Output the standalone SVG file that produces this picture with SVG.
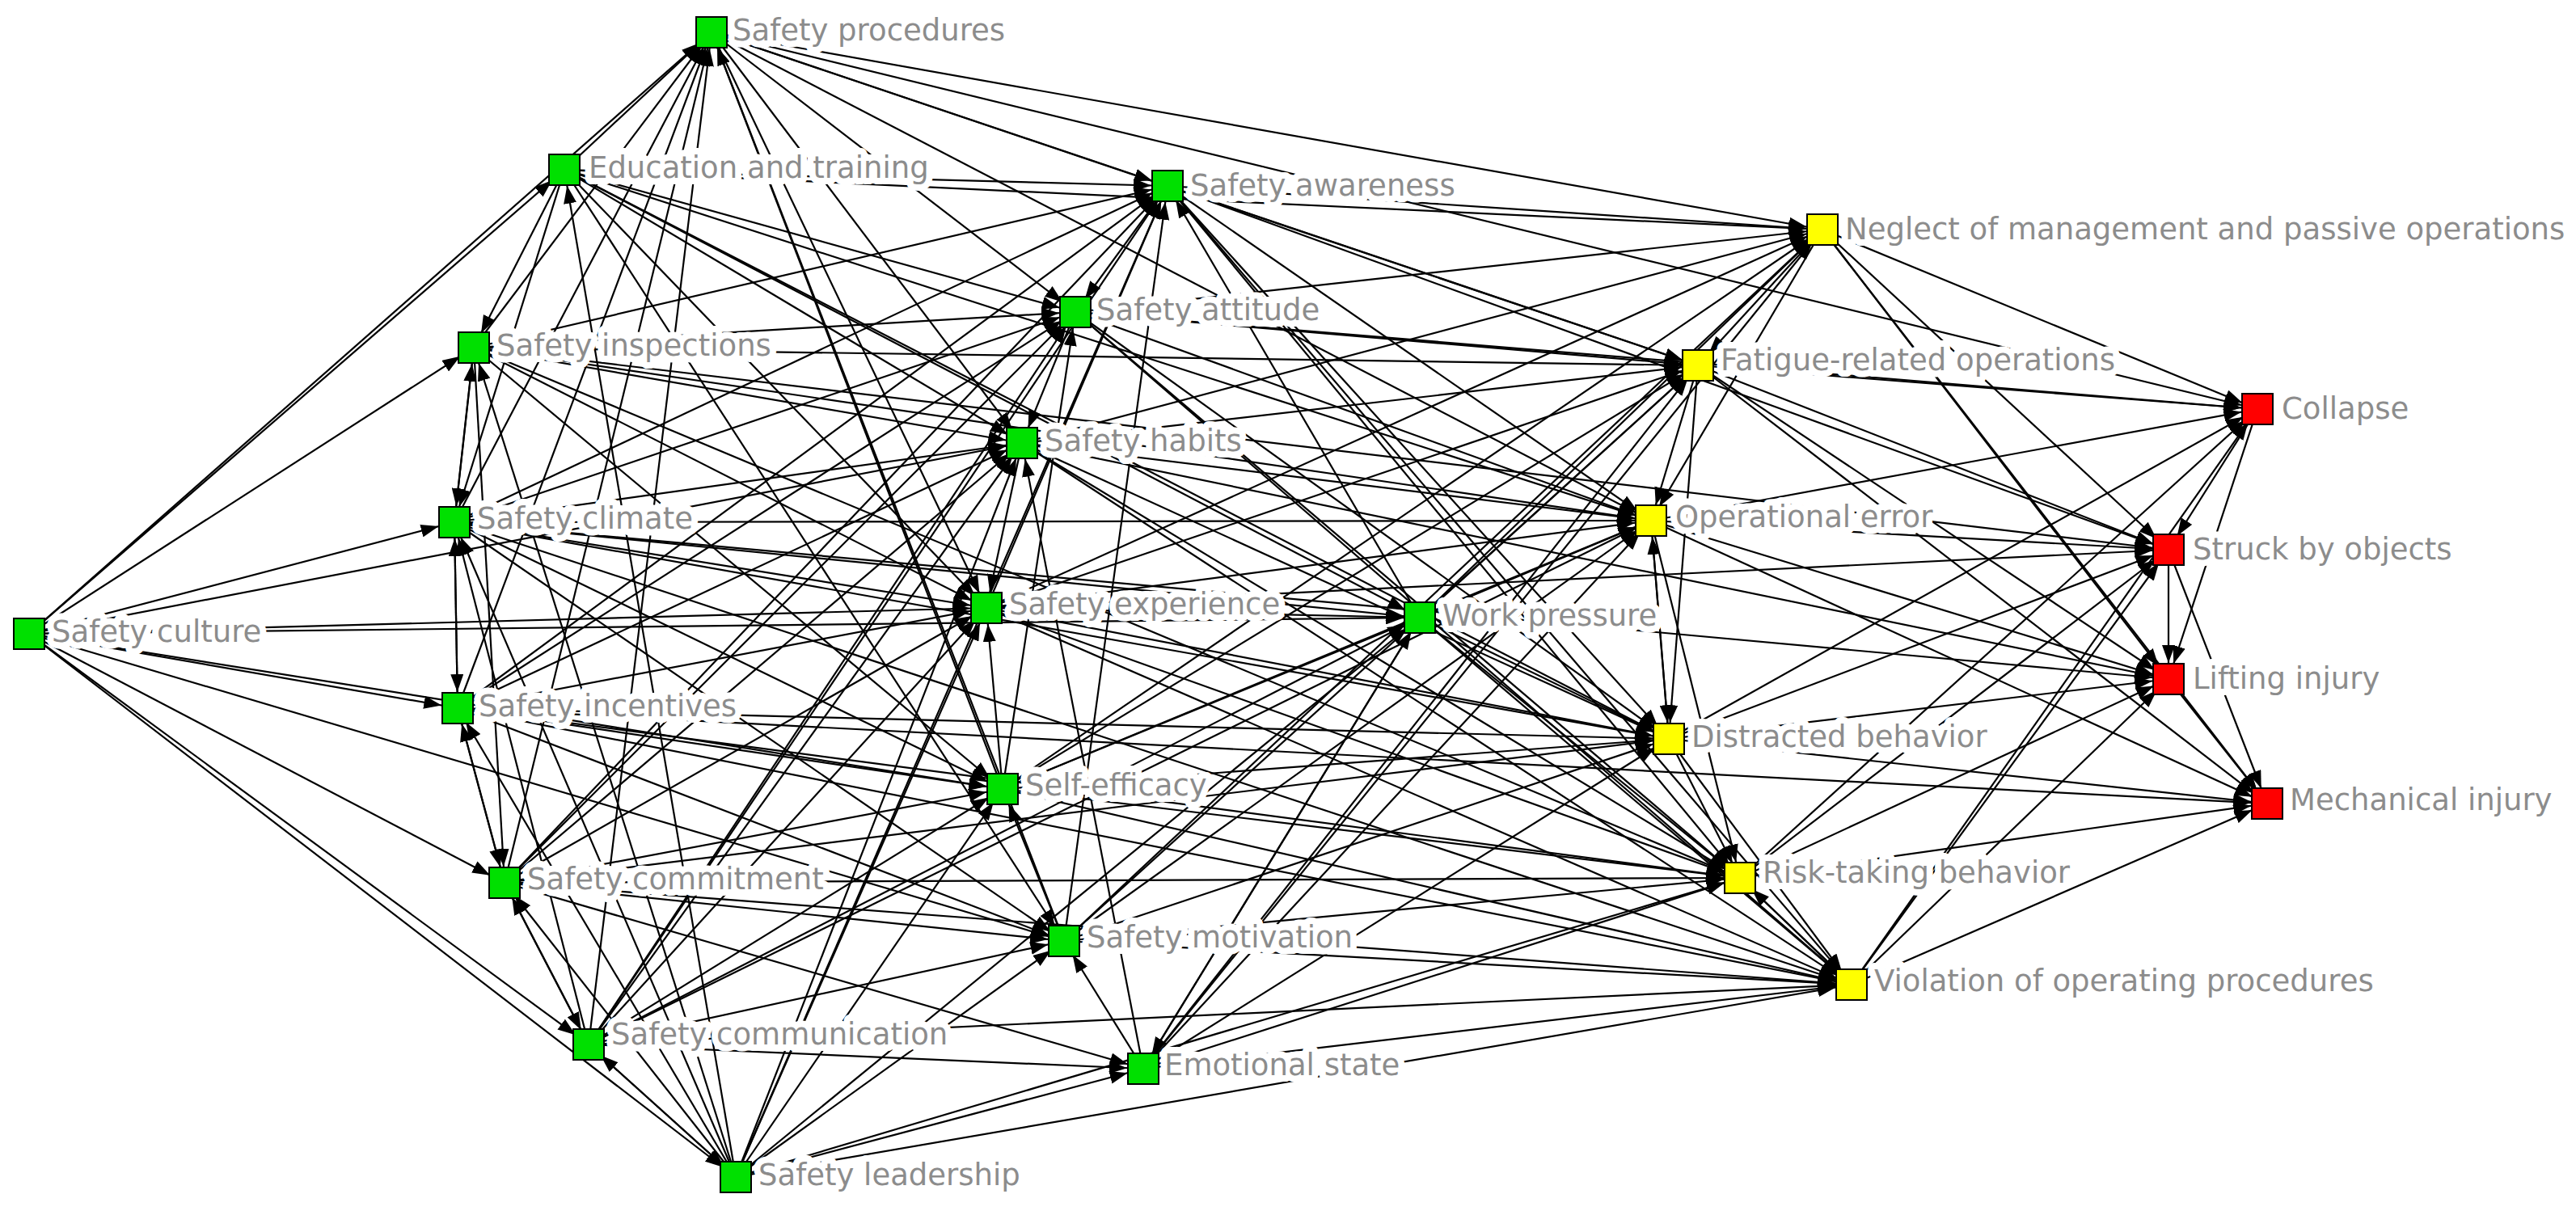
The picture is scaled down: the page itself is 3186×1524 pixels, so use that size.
<svg xmlns="http://www.w3.org/2000/svg" width="3186" height="1524" viewBox="0 0 3186 1524">
<style>
.e line{stroke:#000;stroke-width:2.2;marker-end:url(#ah)}
.n rect{stroke:#000;stroke-width:2}
.g{fill:#00e000}.y{fill:#ffff00}.r{fill:#ff0000}
text{font-family:Tahoma,"DejaVu Sans",sans-serif;font-size:37px;fill:#8c8c8c;stroke:#fff;stroke-width:16;paint-order:stroke;stroke-linejoin:round}
</style>
<defs><marker id="ah" markerUnits="userSpaceOnUse" markerWidth="60" markerHeight="16" refX="42" refY="8" orient="auto"><path d="M0,0 L22,8 L0,16 z" fill="#000"/></marker></defs>
<rect width="3186" height="1524" fill="#fff"/>
<g class="e" id="connectors">
<line x1="36" y1="784" x2="880" y2="40"/><line x1="36" y1="784" x2="698" y2="210"/><line x1="36" y1="784" x2="586" y2="430"/><line x1="36" y1="784" x2="562" y2="646"/><line x1="36" y1="784" x2="1220" y2="752"/><line x1="36" y1="784" x2="566" y2="876"/><line x1="36" y1="784" x2="624" y2="1092"/><line x1="36" y1="784" x2="728" y2="1292"/><line x1="36" y1="784" x2="910" y2="1456"/><line x1="36" y1="784" x2="1264" y2="548"/><line x1="36" y1="784" x2="1756" y2="764"/><line x1="36" y1="784" x2="1240" y2="976"/><line x1="36" y1="784" x2="1316" y2="1164"/>
<line x1="880" y1="40" x2="1444" y2="230"/><line x1="880" y1="40" x2="1330" y2="386"/><line x1="880" y1="40" x2="1264" y2="548"/><line x1="880" y1="40" x2="2254" y2="284"/><line x1="880" y1="40" x2="2100" y2="452"/><line x1="880" y1="40" x2="2042" y2="644"/><line x1="880" y1="40" x2="2792" y2="506"/><line x1="880" y1="40" x2="1220" y2="752"/>
<line x1="698" y1="210" x2="880" y2="40"/><line x1="586" y1="430" x2="880" y2="40"/><line x1="562" y1="646" x2="880" y2="40"/><line x1="566" y1="876" x2="880" y2="40"/><line x1="624" y1="1092" x2="880" y2="40"/><line x1="728" y1="1292" x2="880" y2="40"/><line x1="1240" y1="976" x2="880" y2="40"/><line x1="1316" y1="1164" x2="880" y2="40"/>
<line x1="698" y1="210" x2="1444" y2="230"/><line x1="698" y1="210" x2="1330" y2="386"/><line x1="698" y1="210" x2="1264" y2="548"/><line x1="698" y1="210" x2="1220" y2="752"/><line x1="698" y1="210" x2="2254" y2="284"/><line x1="698" y1="210" x2="2042" y2="644"/><line x1="698" y1="210" x2="2064" y2="914"/><line x1="698" y1="210" x2="1756" y2="764"/><line x1="698" y1="210" x2="586" y2="430"/><line x1="698" y1="210" x2="562" y2="646"/><line x1="698" y1="210" x2="1316" y2="1164"/>
<line x1="586" y1="430" x2="1444" y2="230"/><line x1="586" y1="430" x2="1330" y2="386"/><line x1="586" y1="430" x2="1264" y2="548"/><line x1="586" y1="430" x2="1220" y2="752"/><line x1="586" y1="430" x2="2100" y2="452"/><line x1="586" y1="430" x2="2042" y2="644"/><line x1="586" y1="430" x2="2152" y2="1086"/><line x1="586" y1="430" x2="562" y2="646"/><line x1="586" y1="430" x2="624" y2="1092"/><line x1="586" y1="430" x2="2682" y2="680"/><line x1="586" y1="430" x2="1240" y2="976"/>
<line x1="562" y1="646" x2="1444" y2="230"/><line x1="562" y1="646" x2="1330" y2="386"/><line x1="562" y1="646" x2="1264" y2="548"/><line x1="562" y1="646" x2="1220" y2="752"/><line x1="562" y1="646" x2="1240" y2="976"/><line x1="562" y1="646" x2="1316" y2="1164"/><line x1="562" y1="646" x2="2042" y2="644"/><line x1="562" y1="646" x2="2064" y2="914"/><line x1="562" y1="646" x2="566" y2="876"/><line x1="562" y1="646" x2="2290" y2="1218"/><line x1="562" y1="646" x2="1756" y2="764"/><line x1="562" y1="646" x2="586" y2="430"/><line x1="562" y1="646" x2="2682" y2="840"/>
<line x1="566" y1="876" x2="1444" y2="230"/><line x1="566" y1="876" x2="1330" y2="386"/><line x1="566" y1="876" x2="1264" y2="548"/><line x1="566" y1="876" x2="1220" y2="752"/><line x1="566" y1="876" x2="1240" y2="976"/><line x1="566" y1="876" x2="1316" y2="1164"/><line x1="566" y1="876" x2="2152" y2="1086"/><line x1="566" y1="876" x2="2064" y2="914"/><line x1="566" y1="876" x2="562" y2="646"/><line x1="566" y1="876" x2="624" y2="1092"/><line x1="566" y1="876" x2="2290" y2="1218"/><line x1="566" y1="876" x2="2804" y2="994"/>
<line x1="624" y1="1092" x2="1444" y2="230"/><line x1="624" y1="1092" x2="1330" y2="386"/><line x1="624" y1="1092" x2="1264" y2="548"/><line x1="624" y1="1092" x2="1220" y2="752"/><line x1="624" y1="1092" x2="1240" y2="976"/><line x1="624" y1="1092" x2="1316" y2="1164"/><line x1="624" y1="1092" x2="1414" y2="1322"/><line x1="624" y1="1092" x2="2152" y2="1086"/><line x1="624" y1="1092" x2="2290" y2="1218"/><line x1="624" y1="1092" x2="728" y2="1292"/><line x1="624" y1="1092" x2="566" y2="876"/><line x1="624" y1="1092" x2="2064" y2="914"/>
<line x1="728" y1="1292" x2="1444" y2="230"/><line x1="728" y1="1292" x2="1330" y2="386"/><line x1="728" y1="1292" x2="1264" y2="548"/><line x1="728" y1="1292" x2="1220" y2="752"/><line x1="728" y1="1292" x2="1240" y2="976"/><line x1="728" y1="1292" x2="1316" y2="1164"/><line x1="728" y1="1292" x2="1414" y2="1322"/><line x1="728" y1="1292" x2="1756" y2="764"/><line x1="728" y1="1292" x2="2042" y2="644"/><line x1="728" y1="1292" x2="2290" y2="1218"/><line x1="728" y1="1292" x2="624" y2="1092"/><line x1="728" y1="1292" x2="910" y2="1456"/><line x1="728" y1="1292" x2="562" y2="646"/>
<line x1="910" y1="1456" x2="728" y2="1292"/><line x1="910" y1="1456" x2="624" y2="1092"/><line x1="910" y1="1456" x2="566" y2="876"/><line x1="910" y1="1456" x2="562" y2="646"/><line x1="910" y1="1456" x2="586" y2="430"/><line x1="910" y1="1456" x2="698" y2="210"/><line x1="910" y1="1456" x2="1316" y2="1164"/><line x1="910" y1="1456" x2="1414" y2="1322"/><line x1="910" y1="1456" x2="1240" y2="976"/><line x1="910" y1="1456" x2="1220" y2="752"/><line x1="910" y1="1456" x2="1264" y2="548"/><line x1="910" y1="1456" x2="1444" y2="230"/><line x1="910" y1="1456" x2="1756" y2="764"/><line x1="910" y1="1456" x2="2290" y2="1218"/><line x1="910" y1="1456" x2="2152" y2="1086"/>
<line x1="1444" y1="230" x2="2254" y2="284"/><line x1="1444" y1="230" x2="2100" y2="452"/><line x1="1444" y1="230" x2="2042" y2="644"/><line x1="1444" y1="230" x2="2064" y2="914"/><line x1="1444" y1="230" x2="2152" y2="1086"/><line x1="1444" y1="230" x2="2290" y2="1218"/><line x1="1444" y1="230" x2="1330" y2="386"/><line x1="1444" y1="230" x2="2682" y2="680"/>
<line x1="1330" y1="386" x2="2254" y2="284"/><line x1="1330" y1="386" x2="2100" y2="452"/><line x1="1330" y1="386" x2="2042" y2="644"/><line x1="1330" y1="386" x2="2064" y2="914"/><line x1="1330" y1="386" x2="2152" y2="1086"/><line x1="1330" y1="386" x2="2290" y2="1218"/><line x1="1330" y1="386" x2="1264" y2="548"/><line x1="1330" y1="386" x2="2792" y2="506"/>
<line x1="1264" y1="548" x2="2254" y2="284"/><line x1="1264" y1="548" x2="2100" y2="452"/><line x1="1264" y1="548" x2="2042" y2="644"/><line x1="1264" y1="548" x2="2064" y2="914"/><line x1="1264" y1="548" x2="2152" y2="1086"/><line x1="1264" y1="548" x2="2290" y2="1218"/><line x1="1264" y1="548" x2="1220" y2="752"/><line x1="1264" y1="548" x2="2682" y2="840"/>
<line x1="1220" y1="752" x2="2254" y2="284"/><line x1="1220" y1="752" x2="2100" y2="452"/><line x1="1220" y1="752" x2="2042" y2="644"/><line x1="1220" y1="752" x2="2064" y2="914"/><line x1="1220" y1="752" x2="2152" y2="1086"/><line x1="1220" y1="752" x2="2290" y2="1218"/><line x1="1220" y1="752" x2="1444" y2="230"/><line x1="1220" y1="752" x2="2682" y2="680"/>
<line x1="1240" y1="976" x2="2254" y2="284"/><line x1="1240" y1="976" x2="2100" y2="452"/><line x1="1240" y1="976" x2="2042" y2="644"/><line x1="1240" y1="976" x2="2064" y2="914"/><line x1="1240" y1="976" x2="2152" y2="1086"/><line x1="1240" y1="976" x2="2290" y2="1218"/><line x1="1240" y1="976" x2="1220" y2="752"/><line x1="1240" y1="976" x2="1330" y2="386"/>
<line x1="1316" y1="1164" x2="2254" y2="284"/><line x1="1316" y1="1164" x2="2100" y2="452"/><line x1="1316" y1="1164" x2="2042" y2="644"/><line x1="1316" y1="1164" x2="2064" y2="914"/><line x1="1316" y1="1164" x2="2152" y2="1086"/><line x1="1316" y1="1164" x2="2290" y2="1218"/><line x1="1316" y1="1164" x2="1240" y2="976"/><line x1="1316" y1="1164" x2="1444" y2="230"/>
<line x1="1414" y1="1322" x2="2254" y2="284"/><line x1="1414" y1="1322" x2="2100" y2="452"/><line x1="1414" y1="1322" x2="2042" y2="644"/><line x1="1414" y1="1322" x2="2064" y2="914"/><line x1="1414" y1="1322" x2="2152" y2="1086"/><line x1="1414" y1="1322" x2="2290" y2="1218"/><line x1="1414" y1="1322" x2="1316" y2="1164"/><line x1="1414" y1="1322" x2="1264" y2="548"/><line x1="1414" y1="1322" x2="1756" y2="764"/>
<line x1="1756" y1="764" x2="2254" y2="284"/><line x1="1756" y1="764" x2="2100" y2="452"/><line x1="1756" y1="764" x2="2042" y2="644"/><line x1="1756" y1="764" x2="2064" y2="914"/><line x1="1756" y1="764" x2="2152" y2="1086"/><line x1="1756" y1="764" x2="2290" y2="1218"/><line x1="1756" y1="764" x2="1444" y2="230"/><line x1="1756" y1="764" x2="1220" y2="752"/><line x1="1756" y1="764" x2="1240" y2="976"/><line x1="1756" y1="764" x2="1414" y2="1322"/>
<line x1="2254" y1="284" x2="2792" y2="506"/><line x1="2254" y1="284" x2="2682" y2="680"/><line x1="2254" y1="284" x2="2682" y2="840"/><line x1="2254" y1="284" x2="2804" y2="994"/><line x1="2254" y1="284" x2="2042" y2="644"/><line x1="2254" y1="284" x2="2100" y2="452"/>
<line x1="2100" y1="452" x2="2792" y2="506"/><line x1="2100" y1="452" x2="2682" y2="680"/><line x1="2100" y1="452" x2="2682" y2="840"/><line x1="2100" y1="452" x2="2804" y2="994"/><line x1="2100" y1="452" x2="2042" y2="644"/><line x1="2100" y1="452" x2="2064" y2="914"/>
<line x1="2042" y1="644" x2="2792" y2="506"/><line x1="2042" y1="644" x2="2682" y2="680"/><line x1="2042" y1="644" x2="2682" y2="840"/><line x1="2042" y1="644" x2="2804" y2="994"/><line x1="2042" y1="644" x2="2064" y2="914"/><line x1="2042" y1="644" x2="2152" y2="1086"/>
<line x1="2064" y1="914" x2="2792" y2="506"/><line x1="2064" y1="914" x2="2682" y2="680"/><line x1="2064" y1="914" x2="2682" y2="840"/><line x1="2064" y1="914" x2="2804" y2="994"/><line x1="2064" y1="914" x2="2042" y2="644"/><line x1="2064" y1="914" x2="2152" y2="1086"/><line x1="2064" y1="914" x2="2290" y2="1218"/>
<line x1="2152" y1="1086" x2="2792" y2="506"/><line x1="2152" y1="1086" x2="2682" y2="680"/><line x1="2152" y1="1086" x2="2682" y2="840"/><line x1="2152" y1="1086" x2="2804" y2="994"/><line x1="2152" y1="1086" x2="2290" y2="1218"/>
<line x1="2290" y1="1218" x2="2792" y2="506"/><line x1="2290" y1="1218" x2="2682" y2="680"/><line x1="2290" y1="1218" x2="2682" y2="840"/><line x1="2290" y1="1218" x2="2804" y2="994"/><line x1="2290" y1="1218" x2="2152" y2="1086"/>
<line x1="2792" y1="506" x2="2682" y2="680"/><line x1="2792" y1="506" x2="2682" y2="840"/><line x1="2682" y1="680" x2="2682" y2="840"/><line x1="2682" y1="840" x2="2804" y2="994"/><line x1="2682" y1="680" x2="2804" y2="994"/>
</g>
<g class="n">
<g id="n-sp"><rect class="g" x="861" y="21" width="38" height="38"/><text x="906" y="50">Safety procedures</text></g>
<g id="n-et"><rect class="g" x="679" y="191" width="38" height="38"/><text x="728" y="220">Education and training</text></g>
<g id="n-sa"><rect class="g" x="1425" y="211" width="38" height="38"/><text x="1472" y="242">Safety awareness</text></g>
<g id="n-nm"><rect class="y" x="2235" y="265" width="38" height="38"/><text x="2282" y="296">Neglect of management and passive operations</text></g>
<g id="n-sat"><rect class="g" x="1311" y="367" width="38" height="38"/><text x="1356" y="396">Safety attitude</text></g>
<g id="n-si"><rect class="g" x="567" y="411" width="38" height="38"/><text x="614" y="440">Safety inspections</text></g>
<g id="n-fr"><rect class="y" x="2081" y="433" width="38" height="38"/><text x="2128" y="458">Fatigue-related operations</text></g>
<g id="n-co"><rect class="r" x="2773" y="487" width="38" height="38"/><text x="2822" y="518">Collapse</text></g>
<g id="n-sh"><rect class="g" x="1245" y="529" width="38" height="38"/><text x="1292" y="558">Safety habits</text></g>
<g id="n-sc"><rect class="g" x="543" y="627" width="38" height="38"/><text x="590" y="654">Safety climate</text></g>
<g id="n-oe"><rect class="y" x="2023" y="625" width="38" height="38"/><text x="2072" y="652">Operational error</text></g>
<g id="n-sb"><rect class="r" x="2663" y="661" width="38" height="38"/><text x="2712" y="692">Struck by objects</text></g>
<g id="n-cu"><rect class="g" x="17" y="765" width="38" height="38"/><text x="64" y="794">Safety culture</text></g>
<g id="n-se"><rect class="g" x="1201" y="733" width="38" height="38"/><text x="1248" y="760">Safety experience</text></g>
<g id="n-wp"><rect class="g" x="1737" y="745" width="38" height="38"/><text x="1784" y="774">Work pressure</text></g>
<g id="n-li"><rect class="r" x="2663" y="821" width="38" height="38"/><text x="2712" y="852">Lifting injury</text></g>
<g id="n-sin"><rect class="g" x="547" y="857" width="38" height="38"/><text x="592" y="886">Safety incentives</text></g>
<g id="n-db"><rect class="y" x="2045" y="895" width="38" height="38"/><text x="2092" y="924">Distracted behavior</text></g>
<g id="n-sef"><rect class="g" x="1221" y="957" width="38" height="38"/><text x="1268" y="984">Self-efficacy</text></g>
<g id="n-mi"><rect class="r" x="2785" y="975" width="38" height="38"/><text x="2832" y="1002">Mechanical injury</text></g>
<g id="n-scm"><rect class="g" x="605" y="1073" width="38" height="38"/><text x="652" y="1100">Safety commitment</text></g>
<g id="n-rt"><rect class="y" x="2133" y="1067" width="38" height="38"/><text x="2180" y="1092">Risk-taking behavior</text></g>
<g id="n-sm"><rect class="g" x="1297" y="1145" width="38" height="38"/><text x="1344" y="1172">Safety motivation</text></g>
<g id="n-vo"><rect class="y" x="2271" y="1199" width="38" height="38"/><text x="2318" y="1226">Violation of operating procedures</text></g>
<g id="n-sco"><rect class="g" x="709" y="1273" width="38" height="38"/><text x="756" y="1292">Safety communication</text></g>
<g id="n-es"><rect class="g" x="1395" y="1303" width="38" height="38"/><text x="1440" y="1330">Emotional state</text></g>
<g id="n-sl"><rect class="g" x="891" y="1437" width="38" height="38"/><text x="938" y="1466">Safety leadership</text></g>
</g>
</svg>
